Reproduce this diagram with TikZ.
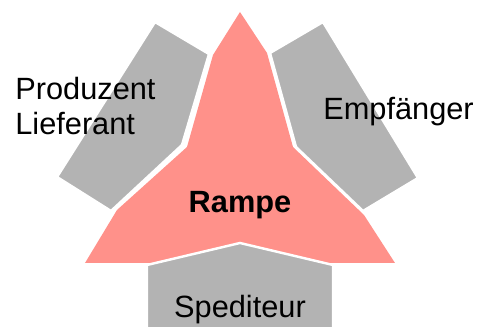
\documentclass[tikz,border=0pt]{standalone}
\usepackage{fontspec}
\setmainfont{Liberation Sans}

\begin{document}
\begin{tikzpicture}[x=0.02cm, y=-0.02cm,
        rampe/.style = {fill={rgb,255:red,255;green,145;blue,138}},
        partner/.style = {fill={rgb,255:red,179;green,179;blue,179}, draw=white, line width=1.4pt, line join=miter},
        lbl/.style = {inner sep=0pt, font=\fontsize{17.5}{19.8}\selectfont}
    ]
        \useasboundingbox (0,0) rectangle (478,327);
        \clip (0,0) rectangle (478,327);
        % central ramp
        \fill[rampe] (240,12) -- (267,53) -- (293,147) -- (364,215) -- (395,263)
            -- (85,263) -- (117,210) -- (187,147) -- (213,55) -- cycle;
        % partners around the ramp
        \filldraw[partner] (155,22) -- (209,54) -- (182,145) -- (111,211) -- (57,177) -- cycle;
        \filldraw[partner] (323,22) -- (418,178) -- (363,211) -- (296,147) -- (270,53) -- cycle;
        \filldraw[partner] (147,265) -- (240,243) -- (333,265) -- (333,340) -- (147,340) -- cycle;
        % labels
        \node[lbl, anchor=base west] (prod) at (15,100) {Produzent};
        \node[lbl, anchor=base west] (lief) at (15,135) {Lieferant};
        \node[lbl, anchor=base west] (empf) at (323,120) {Empfänger};
        \node[lbl, anchor=base, font=\fontsize{17.5}{19.8}\selectfont\bfseries] (rampe) at (240,213) {Rampe};
        \node[lbl, anchor=base] (sped) at (240,318) {Spediteur};
    \end{tikzpicture}
\end{document}
